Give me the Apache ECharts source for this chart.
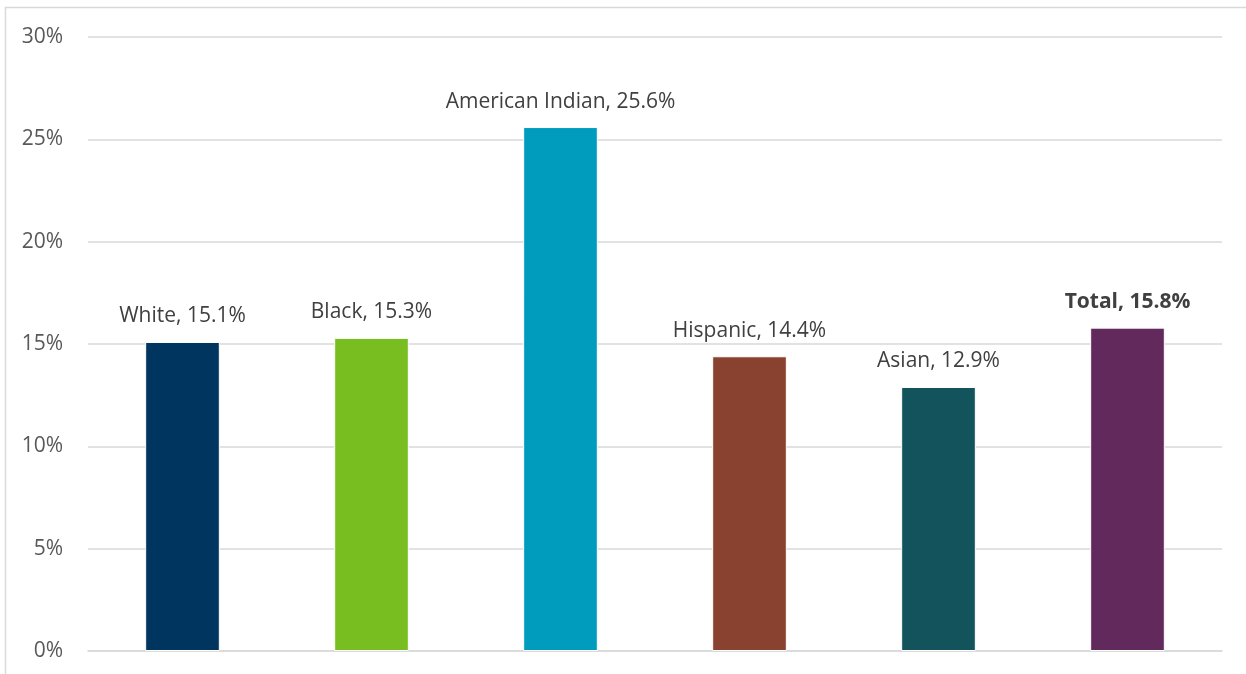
<!DOCTYPE html>
<html>
<head>
<meta charset="utf-8">
<script src="https://cdn.jsdelivr.net/npm/echarts@6/dist/echarts.min.js"></script>
<style>
  html, body { margin: 0; padding: 0; background: #fff; }
  #chart { width: 1246px; height: 674px; }
</style>
</head>
<body>
<div id="chart"></div>
<script>
// Share of population by race/ethnicity
const categories = ['White', 'Black', 'American Indian', 'Hispanic', 'Asian', 'Total'];
const values = [15.1, 15.3, 25.6, 14.4, 12.9, 15.8];
const barColors = ['#00355F', '#78BE20', '#009CBD', '#8A4230', '#12535C', '#62295C'];
const yTicks = [0, 5, 10, 15, 20, 25, 30];

const chart = echarts.init(document.getElementById('chart'), null, { renderer: 'canvas' });

const data = values.map((v, i) => ({
  value: v,
  itemStyle: { color: barColors[i] },
  label: {
    fontWeight: categories[i] === 'Total' ? 'bold' : 'normal'
  }
}));

chart.setOption({
  animation: false,
  backgroundColor: '#fff',
  textStyle: { fontFamily: '"Open Sans", sans-serif' },
  graphic: [{
    type: 'rect',
    shape: { x: 5.5, y: 7.5, width: 1260, height: 700 },
    style: { fill: 'none', stroke: '#d9d9d9', lineWidth: 1.5 },
    silent: true
  }],
  grid: { left: 88, right: 24, top: 37, bottom: 23, containLabel: false },
  xAxis: {
    type: 'category',
    data: categories,
    axisLine: { show: true, lineStyle: { color: '#d9d9d9', width: 1.5 } },
    axisTick: { show: false },
    axisLabel: { show: false }
  },
  yAxis: {
    type: 'value',
    min: yTicks[0],
    max: yTicks[yTicks.length - 1],
    interval: 5,
    axisLine: { show: false },
    axisTick: { show: false },
    axisLabel: {
      formatter: '{value}%',
      color: '#595959',
      fontSize: 21,
      margin: 25
    },
    splitLine: { lineStyle: { color: '#d9d9d9', width: 1.5 } }
  },
  series: [{
    type: 'bar',
    data: data,
    barWidth: '39.5%',
    itemStyle: { borderColor: '#fff', borderWidth: 1 },
    label: {
      show: true,
      position: 'top',
      distance: 15,
      color: '#404040',
      fontSize: 21,
      formatter: p => p.name + ', ' + p.value.toFixed(1) + '%'
    }
  }]
});
</script>
</body>
</html>
